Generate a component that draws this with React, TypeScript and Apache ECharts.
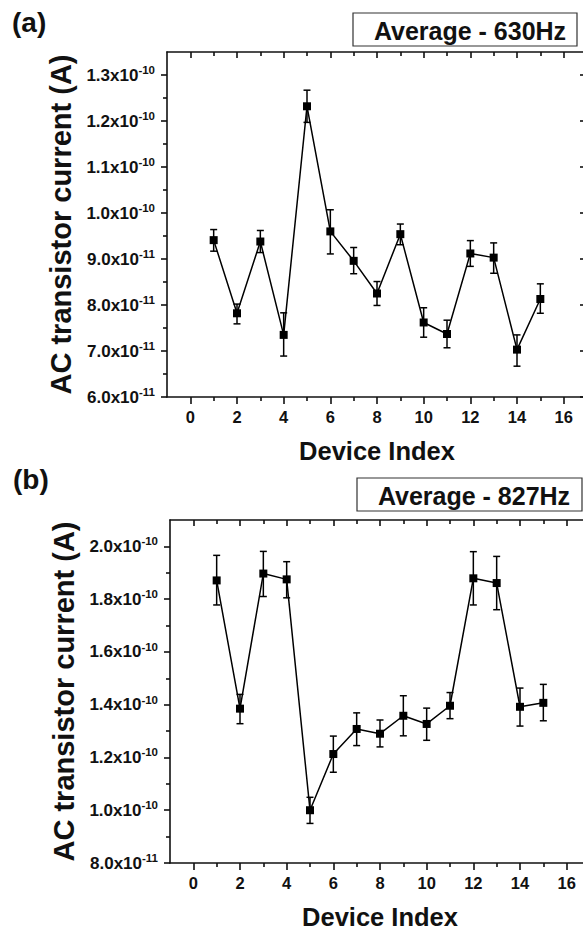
import React, { useEffect, useRef } from "react";
import * as echarts from "echarts";

// ---- data (device index, mean, error-bar bounds), currents in A ----
const deviceIndex = [1, 2, 3, 4, 5, 6, 7, 8, 9, 10, 11, 12, 13, 14, 15];

const meanA = [9.41e-11, 7.82e-11, 9.38e-11, 7.35e-11, 1.232e-10, 9.6e-11, 8.96e-11, 8.25e-11, 9.54e-11, 7.62e-11, 7.37e-11, 9.12e-11, 9.03e-11, 7.03e-11, 8.13e-11];
const upperA = [9.64e-11, 8.02e-11, 9.62e-11, 7.83e-11, 1.267e-10, 1.007e-10, 9.25e-11, 8.51e-11, 9.76e-11, 7.94e-11, 7.67e-11, 9.4e-11, 9.35e-11, 7.35e-11, 8.46e-11];
const lowerA = [9.17e-11, 7.59e-11, 9.14e-11, 6.89e-11, 1.197e-10, 9.11e-11, 8.68e-11, 7.99e-11, 9.31e-11, 7.3e-11, 7.07e-11, 8.84e-11, 8.69e-11, 6.67e-11, 7.82e-11];

const meanB = [1.871e-10, 1.385e-10, 1.897e-10, 1.875e-10, 1.0e-10, 1.213e-10, 1.308e-10, 1.29e-10, 1.358e-10, 1.327e-10, 1.396e-10, 1.879e-10, 1.861e-10, 1.392e-10, 1.407e-10];
const upperB = [1.966e-10, 1.439e-10, 1.981e-10, 1.942e-10, 1.049e-10, 1.281e-10, 1.369e-10, 1.342e-10, 1.434e-10, 1.387e-10, 1.446e-10, 1.98e-10, 1.962e-10, 1.463e-10, 1.477e-10];
const lowerB = [1.778e-10, 1.328e-10, 1.81e-10, 1.805e-10, 9.5e-11, 1.144e-10, 1.245e-10, 1.24e-10, 1.282e-10, 1.265e-10, 1.347e-10, 1.778e-10, 1.76e-10, 1.319e-10, 1.339e-10];

// ---- ticks ----
const xMajorTicks = [0, 2, 4, 6, 8, 10, 12, 14, 16];
const xMinorTicks = [1, 3, 5, 7, 9, 11, 13, 15];

const yMajorTicksA = [6e-11, 7e-11, 8e-11, 9e-11, 1.0e-10, 1.1e-10, 1.2e-10, 1.3e-10];
const yMinorTicksA = [6.5e-11, 7.5e-11, 8.5e-11, 9.5e-11, 1.05e-10, 1.15e-10, 1.25e-10];
const yMajorTicksB = [8e-11, 1.0e-10, 1.2e-10, 1.4e-10, 1.6e-10, 1.8e-10, 2.0e-10];
const yMinorTicksB = [9e-11, 1.1e-10, 1.3e-10, 1.5e-10, 1.7e-10, 1.9e-10];

const titleA = "Average - 630Hz";
const titleB = "Average - 827Hz";
const xTitle = "Device Index";
const yTitle = "AC transistor current (A)";

const FONT = '"Liberation Sans", Arial, Helvetica, sans-serif';
const INK = "#111";

function sciLabel(v: number): string {
  const e = Math.floor(Math.log10(v) + 1e-9);
  const m = v / Math.pow(10, e);
  return `{m|${m.toFixed(1)}x10}{e|${e}}`;
}

const lineStyle = { color: INK, width: 1.6 };

function panelAxes(g: number, yMin: number, yMax: number, yMaj: number[], yMin2: number[]) {
  const xBase = {
    type: "value",
    gridIndex: g,
    min: -1,
    max: 17,
    splitLine: { show: false },
  };
  const xAxes = [
    {
      ...xBase,
      position: "bottom",
      axisLine: { show: true, onZero: false, lineStyle },
      axisTick: { show: true, inside: false, length: 7, customValues: xMajorTicks, lineStyle },
      axisLabel: {
        show: true,
        customValues: xMajorTicks,
        margin: 11,
        fontSize: 16.5,
        fontWeight: "bold",
        fontFamily: FONT,
        color: INK,
        formatter: (v: number) => String(v),
      },
      name: xTitle,
      nameLocation: "middle",
      nameGap: 41,
      nameTextStyle: { fontSize: 25.5, fontWeight: "bold", fontFamily: FONT, color: INK },
    },
    {
      ...xBase,
      position: "bottom",
      axisLine: { show: false, onZero: false },
      axisTick: { show: true, inside: false, length: 4, customValues: xMinorTicks, lineStyle },
      axisLabel: { show: false },
    },
    {
      ...xBase,
      position: "top",
      axisLine: { show: true, onZero: false, lineStyle },
      axisTick: { show: true, inside: true, length: 6, customValues: xMajorTicks, lineStyle },
      axisLabel: { show: false },
    },
    {
      ...xBase,
      position: "top",
      axisLine: { show: false, onZero: false },
      axisTick: { show: true, inside: true, length: 4, customValues: xMinorTicks, lineStyle },
      axisLabel: { show: false },
    },
  ];
  const yBase = {
    type: "value",
    gridIndex: g,
    min: yMin,
    max: yMax,
    splitLine: { show: false },
  };
  const yAxes = [
    {
      ...yBase,
      position: "left",
      axisLine: { show: true, onZero: false, lineStyle },
      axisTick: { show: true, inside: false, length: 6, customValues: yMaj, lineStyle },
      axisLabel: {
        show: true,
        customValues: yMaj,
        margin: 12,
        formatter: sciLabel,
        rich: {
          m: { fontSize: 17, fontWeight: "bold", fontFamily: FONT, color: INK, lineHeight: 22 },
          e: { fontSize: 11.5, fontWeight: "bold", fontFamily: FONT, color: INK, lineHeight: 12, verticalAlign: "top" },
        },
      },
      name: yTitle,
      nameLocation: "middle",
      nameRotate: 90,
      nameGap: 86,
      nameTextStyle: { fontSize: 29, fontWeight: "bold", fontFamily: FONT, color: INK },
    },
    {
      ...yBase,
      position: "left",
      axisLine: { show: false, onZero: false },
      axisTick: { show: true, inside: false, length: 4, customValues: yMin2, lineStyle },
      axisLabel: { show: false },
    },
    {
      ...yBase,
      position: "right",
      axisLine: { show: false, onZero: false, lineStyle },
      axisTick: { show: true, inside: true, length: 7, customValues: yMaj, lineStyle },
      axisLabel: { show: false },
    },
  ];
  return { xAxes, yAxes };
}

function panelSeries(g: number, mean: number[], lower: number[], upper: number[]) {
  const xi = g * 4;
  const yi = g * 3;
  const stroke = { stroke: "#000", lineWidth: 1.5 };
  return [
    {
      type: "custom",
      coordinateSystem: "cartesian2d",
      xAxisIndex: xi,
      yAxisIndex: yi,
      encode: { x: 0, y: [1, 2] },
      data: deviceIndex.map((x, i) => [x, lower[i], upper[i]]),
      z: 2,
      renderItem: (params: any, api: any) => {
        const x = api.value(0);
        const top = api.coord([x, api.value(2)]);
        const bot = api.coord([x, api.value(1)]);
        const w = 3.5;
        return {
          type: "group",
          children: [
            { type: "line", shape: { x1: top[0], y1: top[1], x2: bot[0], y2: bot[1] }, style: stroke },
            { type: "line", shape: { x1: top[0] - w, y1: top[1], x2: top[0] + w, y2: top[1] }, style: stroke },
            { type: "line", shape: { x1: bot[0] - w, y1: bot[1], x2: bot[0] + w, y2: bot[1] }, style: stroke },
          ],
        };
      },
    },
    {
      type: "line",
      xAxisIndex: xi,
      yAxisIndex: yi,
      data: deviceIndex.map((x, i) => [x, mean[i]]),
      symbol: "rect",
      symbolSize: 8,
      itemStyle: { color: "#000" },
      lineStyle: { color: "#000", width: 1.5 },
      z: 3,
    },
  ];
}

function titleBox(x: number, y: number, w: number, h: number, text: string, tx: number) {
  return {
    type: "group",
    children: [
      { type: "rect", shape: { x, y, width: w, height: h }, style: { fill: "#fff", stroke: "#333", lineWidth: 1.2 } },
      {
        type: "text",
        x: tx,
        y: y + h / 2 + 1,
        style: {
          text,
          fontSize: 25,
          fontWeight: "bold",
          fontFamily: FONT,
          fill: INK,
          textAlign: "center",
          textVerticalAlign: "middle",
        },
      },
    ],
  };
}

export default function App() {
  const ref = useRef<HTMLDivElement>(null);
  useEffect(() => {
    if (!ref.current) return;
    const chart = echarts.init(ref.current, undefined, { renderer: "svg" });
    const a = panelAxes(0, 6e-11, 1.35e-10, yMajorTicksA, yMinorTicksA);
    const b = panelAxes(1, 8e-11, 2.1e-10, yMajorTicksB, yMinorTicksB);
    chart.setOption({
      animation: false,
      backgroundColor: "#fff",
      grid: [
        { left: 167, top: 52, width: 420, height: 345, outerBoundsMode: "none", containLabel: false },
        { left: 170, top: 520, width: 420, height: 343, outerBoundsMode: "none", containLabel: false },
      ],
      xAxis: [...a.xAxes, ...b.xAxes],
      yAxis: [...a.yAxes, ...b.yAxes],
      series: [...panelSeries(0, meanA, lowerA, upperA), ...panelSeries(1, meanB, lowerB, upperB)],
      graphic: [
        {
          type: "text",
          left: 12,
          top: 8,
          style: { text: "(a)", fontSize: 28, fontWeight: "bold", fontFamily: FONT, fill: INK },
        },
        {
          type: "text",
          left: 13,
          top: 465,
          style: { text: "(b)", fontSize: 28, fontWeight: "bold", fontFamily: FONT, fill: INK },
        },
        titleBox(353, 13, 224, 33, titleA, 470),
        titleBox(357, 478, 225, 33, titleB, 474),
      ],
    });
    return () => chart.dispose();
  }, []);
  return (
    <div
      ref={ref}
      style={{ position: "fixed", left: 0, top: 0, width: 610, height: 934, background: "#fff" }}
    />
  );
}
